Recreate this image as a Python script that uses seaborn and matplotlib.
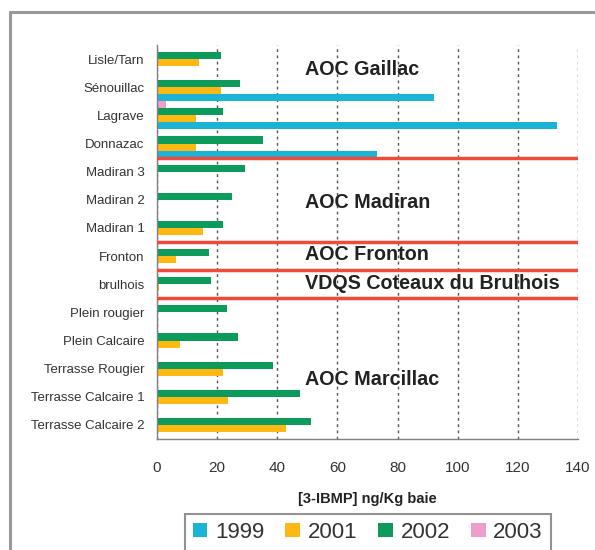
import numpy as np
import pandas as pd
import matplotlib
matplotlib.use("Agg")
import matplotlib.pyplot as plt
from matplotlib.patches import Patch
from matplotlib.lines import Line2D
import seaborn as sns

sites = ["Lisle/Tarn", "Sénouillac", "Lagrave", "Donnazac", "Madiran 3", "Madiran 2",
         "Madiran 1", "Fronton", "brulhois", "Plein rougier", "Plein Calcaire",
         "Terrasse Rougier", "Terrasse Calcaire 1", "Terrasse Calcaire 2"]
years = ["1999", "2001", "2002", "2003"]
v1999 = [np.nan, 92, 133, 73, np.nan, np.nan, np.nan, np.nan, np.nan, np.nan, np.nan, np.nan, np.nan, np.nan]
v2001 = [14, 21.3, 12.9, 12.9, np.nan, np.nan, 15.3, 6.3, 0.8, np.nan, 7.6, 22, 23.6, 42.8]
v2002 = [21.3, 27.7, 22, 35.1, 29.1, 24.8, 22, 17.3, 18.1, 23.3, 26.8, 38.7, 47.6, 51.1]
v2003 = [np.nan, np.nan, 3, np.nan, np.nan, np.nan, np.nan, np.nan, np.nan, np.nan, np.nan, np.nan, np.nan, np.nan]
colors = {"1999": "#1bb3d6", "2001": "#fdb813", "2002": "#0d9b5c", "2003": "#ee9ecb"}
region_labels = ["AOC Gaillac", "AOC Madiran", "AOC Fronton", "VDQS Coteaux du Brulhois", "AOC Marcillac"]
region_y = [0.38, 5.09, 6.96, 7.98, 11.38]
separators = [3.5, 6.5, 7.5, 8.5]
xticks = [0, 20, 40, 60, 80, 100, 120, 140]

df = pd.DataFrame({"site": sites, "1999": v1999, "2001": v2001, "2002": v2002, "2003": v2003})
long = df.melt(id_vars="site", var_name="year", value_name="value").dropna()

sns.set_style("white")
plt.rcParams["font.family"] = ["Liberation Sans", "DejaVu Sans"]

fig = plt.figure(figsize=(5.95, 5.5), dpi=100)
ax = fig.add_axes([157 / 595, 1 - 439 / 550, 421 / 595, 394 / 550])

sns.barplot(data=long, y="site", x="value", hue="year", order=sites,
            hue_order=["2003", "2002", "2001", "1999"], palette=colors,
            orient="h", width=1.0, errorbar=None, legend=False, ax=ax,
            saturation=1, linewidth=0)

ax.set_xlim(0, 140)
ax.set_ylim(len(sites) - 0.5, -0.5)
ax.set_xticks(xticks)
ax.set_xticklabels([str(t) for t in xticks], fontsize=11, color="#333333")
ax.set_yticks(range(len(sites)))
ax.set_yticklabels(sites, fontsize=9.5, color="#333333")
ax.set_yticks(np.arange(-0.5, len(sites), 1), minor=True)
ax.tick_params(axis="y", which="major", length=0, pad=9)
ax.tick_params(axis="y", which="minor", length=4, color="#808080", direction="out")
ax.tick_params(axis="x", which="major", length=6, color="#808080", direction="inout", pad=13)
ax.set_ylabel("")
ax.set_xlabel("[3-IBMP] ng/Kg baie", fontsize=10.5, fontweight="bold", color="#222222", labelpad=12)

ax.set_axisbelow(True)
ax.grid(axis="x", linestyle=(0, (2, 2.5)), color="#555555", linewidth=1)
ax.grid(axis="y", visible=False)
for s in ["top", "right"]:
    ax.spines[s].set_visible(False)
for s in ["left", "bottom"]:
    ax.spines[s].set_color("#808080")
    ax.spines[s].set_linewidth(1)

for y in separators:
    ax.axhline(y, color="#ef4a3a", linewidth=2.5, zorder=3)

for lab, y in zip(region_labels, region_y):
    ax.text(49.3, y, lab, fontsize=14.2, fontweight="bold", color="#222222",
            ha="left", va="center", zorder=4)

handles = [Patch(facecolor=colors[y], edgecolor="none", label=y) for y in years]
leg = fig.legend(handles=handles, loc="upper left", bbox_to_anchor=(185 / 595, 1 - 514 / 550),
                 ncol=4, fontsize=16, frameon=True, fancybox=False, edgecolor="#777777",
                 handlelength=0.65, handleheight=0.65, handletextpad=0.35, columnspacing=0.95,
                 borderpad=0.35, borderaxespad=0)
leg.get_frame().set_linewidth(1.5)
for t in leg.get_texts():
    t.set_color("#333333")

fig.add_artist(Line2D([10 / 595, 10 / 595], [0, 1 - 12 / 550], transform=fig.transFigure,
                      color="#999999", linewidth=2.2))
fig.add_artist(Line2D([10 / 595, 1], [1 - 12 / 550, 1 - 12 / 550], transform=fig.transFigure,
                      color="#999999", linewidth=2.2))

fig.savefig("out.png", dpi=100)
